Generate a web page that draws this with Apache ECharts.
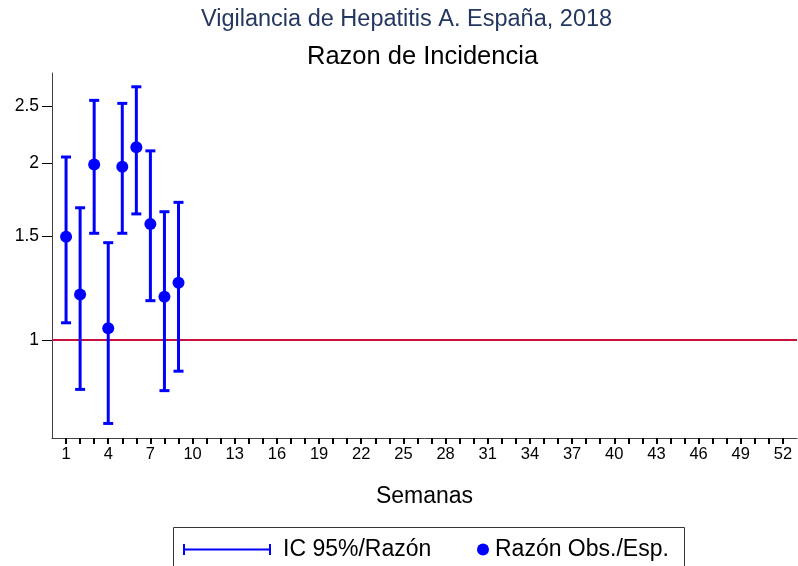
<!DOCTYPE html>
<html>
<head>
<meta charset="UTF-8">
<script src="https://cdn.jsdelivr.net/npm/echarts@6/dist/echarts.min.js"></script>
<style>
  html, body { margin: 0; padding: 0; background: #fff; }
  #main { width: 798px; height: 566px; }
</style>
</head>
<body>
<div id="main"></div>
<script>
// semanas con dato
const weeks = [1, 2, 3, 4, 5, 6, 7, 8, 9];
// razon observado / esperado
const ratio = [1.50, 1.196, 1.99, 1.047, 1.974, 2.13, 1.576, 1.185, 1.252];
// intervalo de confianza 95%
const ciLow = [1.07, 0.824, 1.52, 0.721, 1.52, 1.64, 1.167, 0.82, 0.885];
const ciHigh = [2.05, 1.68, 2.56, 1.465, 2.53, 2.70, 2.10, 1.654, 1.716];
// etiquetas de ejes
const xLabels = [1, 4, 7, 10, 13, 16, 19, 22, 25, 28, 31, 34, 37, 40, 43, 46, 49, 52];
const yLabels = [1, 1.5, 2, 2.5];
const xTicks = [];
for (let w = 1; w <= 52; w++) xTicks.push(w);

const blue = '#0000ff';
const axisColor = '#404040';
const font = 'Liberation Sans, Arial, sans-serif';

const chart = echarts.init(document.getElementById('main'), null, { renderer: 'canvas' });

const legendText = { fontFamily: font, fontSize: 23, color: '#000' };

const option = {
  animation: false,
  textStyle: { fontFamily: font },
  title: [
    {
      text: 'Vigilancia de Hepatitis A. España, 2018',
      left: 196, top: 3,
      textStyle: { fontFamily: font, fontSize: 23.5, fontWeight: 'normal', color: '#243760' }
    },
    {
      text: 'Razon de Incidencia',
      left: 302, top: 39,
      textStyle: { fontFamily: font, fontSize: 25.5, fontWeight: 'normal', color: '#000' }
    }
  ],
  grid: { left: 52, right: 1, top: 73, bottom: 128, containLabel: false },
  graphic: [
    {
      type: 'rect',
      shape: { x: 173.5, y: 527.5, width: 511, height: 60 },
      style: { fill: 'none', stroke: '#333', lineWidth: 1 },
      silent: true
    }
  ],
  legend: [
    {
      left: 183, top: 538, padding: 0,
      itemWidth: 88, itemHeight: 11,
      textStyle: Object.assign({ padding: [0, 0, 0, 7] }, legendText),
      data: [{
        name: 'IC 95%/Razón',
        icon: 'path://M0,0 L2,0 L2,4.5 L86,4.5 L86,0 L88,0 L88,11 L86,11 L86,6.5 L2,6.5 L2,11 L0,11 Z',
        itemStyle: { color: blue, opacity: 1 }
      }]
    },
    {
      left: 477, top: 538, padding: 0,
      itemWidth: 12, itemHeight: 12,
      textStyle: Object.assign({ padding: [0, 0, 0, 1] }, legendText),
      data: [{
        name: 'Razón Obs./Esp.',
        icon: 'circle',
        itemStyle: { color: blue, opacity: 1 }
      }]
    }
  ],
  xAxis: {
    type: 'value',
    min: 0, max: 53, interval: 1,
    name: 'Semanas',
    nameLocation: 'middle',
    nameGap: 47,
    nameTextStyle: { fontFamily: font, fontSize: 23, color: '#000' },
    splitLine: { show: false },
    axisLine: { lineStyle: { color: axisColor, width: 1 } },
    axisTick: { customValues: xTicks, length: 6, lineStyle: { color: '#000', width: 2 } },
    axisLabel: { customValues: xLabels, fontSize: 16.5, color: '#000', margin: 8, fontFamily: font }
  },
  yAxis: {
    type: 'log',
    logBase: 10,
    min: 0.681, max: 2.85,
    splitLine: { show: false },
    axisLine: { show: true, lineStyle: { color: axisColor, width: 1 } },
    axisTick: { show: true, customValues: yLabels, length: 10, lineStyle: { color: '#000', width: 1 } },
    axisLabel: { customValues: yLabels, fontSize: 17.5, color: '#000', margin: 13, fontFamily: font }
  },
  series: [
    {
      name: 'IC 95%/Razón',
      type: 'custom',
      z: 3,
      data: weeks.map((w, i) => [w, ciLow[i], ciHigh[i]]),
      renderItem: function (params, api) {
        const lo = api.coord([api.value(0), api.value(1)]);
        const hi = api.coord([api.value(0), api.value(2)]);
        const hw = 5;
        const style = { stroke: blue, lineWidth: 3 };
        return {
          type: 'group',
          children: [
            { type: 'line', shape: { x1: lo[0], y1: lo[1], x2: hi[0], y2: hi[1] }, style: style },
            { type: 'line', shape: { x1: lo[0] - hw, y1: lo[1], x2: lo[0] + hw, y2: lo[1] }, style: style },
            { type: 'line', shape: { x1: hi[0] - hw, y1: hi[1], x2: hi[0] + hw, y2: hi[1] }, style: style }
          ]
        };
      },
      itemStyle: { color: blue, opacity: 1 }
    },
    {
      name: 'Razón Obs./Esp.',
      type: 'scatter',
      z: 4,
      symbol: 'circle',
      symbolSize: 12,
      itemStyle: { color: blue, opacity: 1 },
      data: weeks.map((w, i) => [w, ratio[i]]),
      markLine: {
        silent: true,
        symbol: 'none',
        label: { show: false },
        lineStyle: { color: '#c8103c', width: 2, type: 'solid', opacity: 1 },
        data: [{ yAxis: 1 }],
        z: 1
      }
    }
  ]
};

chart.setOption(option);
</script>
</body>
</html>
